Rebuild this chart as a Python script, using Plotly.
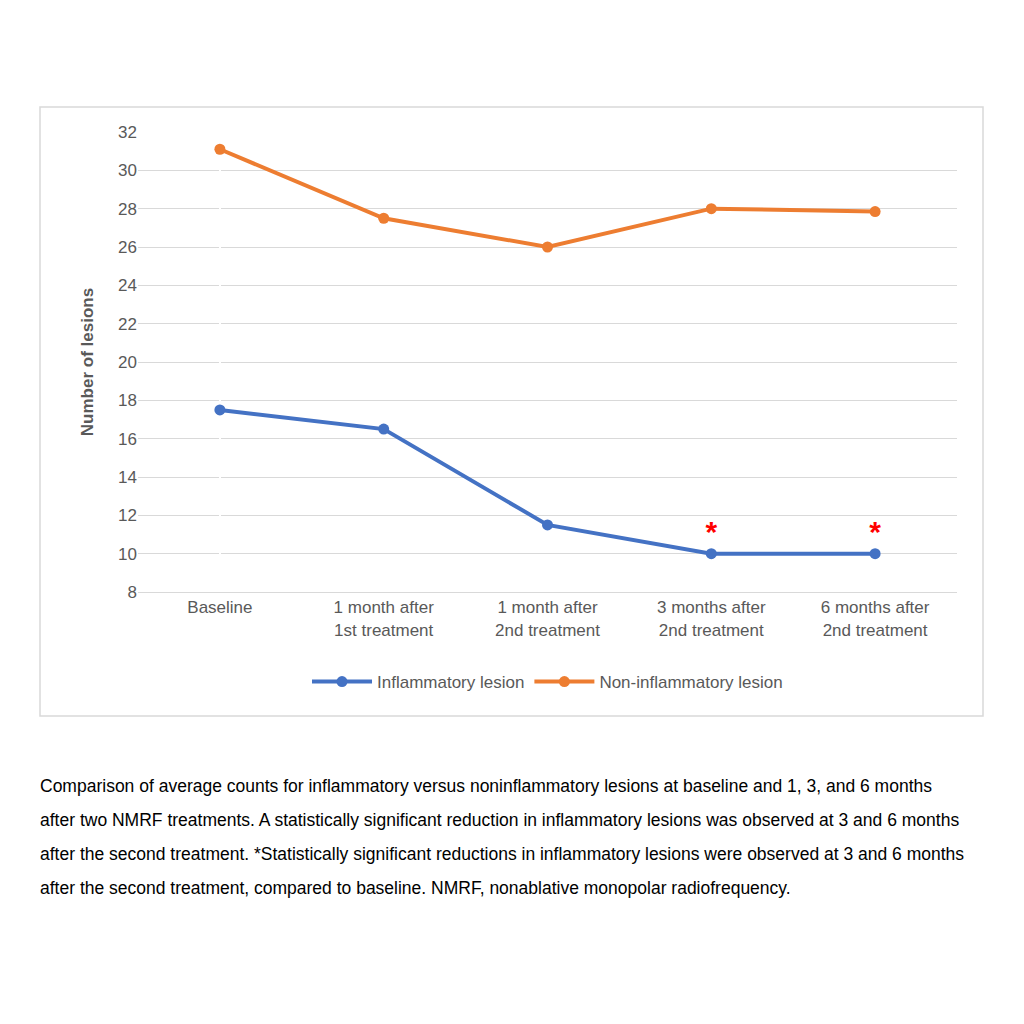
import plotly.graph_objects as go

categories = ["Baseline", "1 month after<br>1st treatment", "1 month after<br>2nd treatment",
              "3 months after<br>2nd treatment", "6 months after<br>2nd treatment"]
inflammatory = [17.5, 16.5, 11.5, 10.0, 10.0]
non_inflammatory = [31.1, 27.5, 26.0, 28.0, 27.85]
significant_idx = [3, 4]

caption_lines = [
    "Comparison of average counts for inflammatory versus noninflammatory lesions at baseline and 1, 3, and 6 months",
    "after two NMRF treatments. A statistically significant reduction in inflammatory lesions was observed at 3 and 6 months",
    "after the second treatment. *Statistically significant reductions in inflammatory lesions were observed at 3 and 6 months",
    "after the second treatment, compared to baseline. NMRF, nonablative monopolar radiofrequency.",
]

x = list(range(len(categories)))
fig = go.Figure()
fig.add_trace(go.Scatter(x=x, y=inflammatory, name="Inflammatory lesion", mode="lines+markers",
                         line=dict(color="#4472C4", width=4), marker=dict(size=11)))
fig.add_trace(go.Scatter(x=x, y=non_inflammatory, name="Non-inflammatory lesion", mode="lines+markers",
                         line=dict(color="#ED7D31", width=4), marker=dict(size=11)))
fig.add_trace(go.Scatter(x=significant_idx, y=[inflammatory[i] + 1.0 for i in significant_idx],
                         mode="text", text=["<b>*</b>"] * len(significant_idx), showlegend=False,
                         textfont=dict(color="red", size=30)))

# page renders with an 8px offset, so shift everything back
OFF = 8
L, R, T, B = 138 - OFF, 957 - OFF, 132 - OFF, 592 - OFF
W = R - L
H = B - T
def px(v): return (v - OFF - L) / W
def py(v): return (B - (v - OFF)) / H

fig.add_shape(type="rect", xref="paper", yref="paper", x0=px(40), x1=px(983), y0=py(716), y1=py(107),
              line=dict(color="#d9d9d9", width=1.5))
for i, line in enumerate(caption_lines):
    fig.add_annotation(xref="paper", yref="paper", x=px(38), y=py(786 + 34 * i), xanchor="left",
                       yanchor="middle", text=line, showarrow=False, align="left",
                       font=dict(size=17.5, color="black", family="Liberation Sans"))
fig.update_layout(
    width=1024, height=1024, plot_bgcolor="white", paper_bgcolor="white",
    margin=dict(l=L, r=1024 - R, t=T, b=1024 - B),
    font=dict(family="Liberation Sans", color="#595959", size=17),
    legend=dict(orientation="h", x=0.5, xanchor="center", y=py(682), yanchor="middle",
                font=dict(size=17), itemwidth=60),
    xaxis=dict(tickmode="array", tickvals=x, ticktext=categories, range=[-0.5, 4.5],
               showgrid=False, showline=True, linecolor="#d9d9d9", ticks=""),
    yaxis=dict(range=[8, 32], dtick=2, gridcolor="#d9d9d9", zeroline=False,
               title=dict(text="<b>Number of lesions</b>", font=dict(size=17), standoff=20)),
)
fig.write_html("out.html")
